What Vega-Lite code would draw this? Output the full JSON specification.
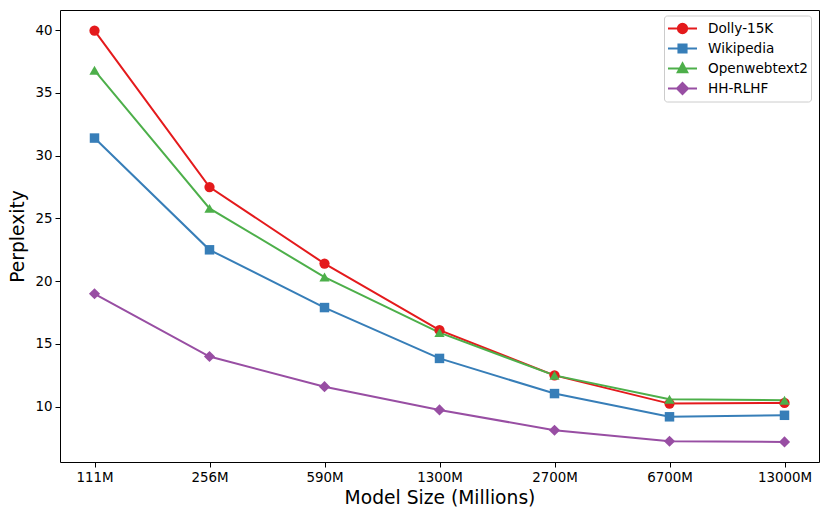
{
  "$schema": "https://vega.github.io/schema/vega-lite/v6.json",
  "width": 759,
  "height": 452,
  "autosize": {"type": "none"},
  "padding": {"left": 60, "top": 10, "right": 11, "bottom": 57},
  "background": "white",
  "config": {
    "font": "DejaVu Sans",
    "view": {"stroke": "#000000", "strokeWidth": 1},
    "axis": {
      "labelFont": "DejaVu Sans",
      "titleFont": "DejaVu Sans",
      "labelColor": "#000000",
      "titleColor": "#000000",
      "labelFontSize": 13.4,
      "titleFontSize": 18.7,
      "titleFontWeight": "normal",
      "tickColor": "#000000",
      "tickSize": 5,
      "domain": false,
      "grid": false,
      "labelPadding": 3
    },
    "legend": {
      "labelFont": "DejaVu Sans",
      "labelFontSize": 13.6,
      "labelColor": "#000000"
    }
  },
  "data": {
    "values": [
      {"size": "111M", "dataset": "Dolly-15K", "ppl": 39.95},
      {"size": "256M", "dataset": "Dolly-15K", "ppl": 27.5},
      {"size": "590M", "dataset": "Dolly-15K", "ppl": 21.4},
      {"size": "1300M", "dataset": "Dolly-15K", "ppl": 16.1},
      {"size": "2700M", "dataset": "Dolly-15K", "ppl": 12.5},
      {"size": "6700M", "dataset": "Dolly-15K", "ppl": 10.25},
      {"size": "13000M", "dataset": "Dolly-15K", "ppl": 10.3},
      {"size": "111M", "dataset": "Wikipedia", "ppl": 31.4},
      {"size": "256M", "dataset": "Wikipedia", "ppl": 22.5},
      {"size": "590M", "dataset": "Wikipedia", "ppl": 17.9},
      {"size": "1300M", "dataset": "Wikipedia", "ppl": 13.85},
      {"size": "2700M", "dataset": "Wikipedia", "ppl": 11.05},
      {"size": "6700M", "dataset": "Wikipedia", "ppl": 9.2},
      {"size": "13000M", "dataset": "Wikipedia", "ppl": 9.32},
      {"size": "111M", "dataset": "Openwebtext2", "ppl": 36.8},
      {"size": "256M", "dataset": "Openwebtext2", "ppl": 25.8},
      {"size": "590M", "dataset": "Openwebtext2", "ppl": 20.33},
      {"size": "1300M", "dataset": "Openwebtext2", "ppl": 15.9},
      {"size": "2700M", "dataset": "Openwebtext2", "ppl": 12.5},
      {"size": "6700M", "dataset": "Openwebtext2", "ppl": 10.6},
      {"size": "13000M", "dataset": "Openwebtext2", "ppl": 10.52},
      {"size": "111M", "dataset": "HH-RLHF", "ppl": 19.0},
      {"size": "256M", "dataset": "HH-RLHF", "ppl": 14.0},
      {"size": "590M", "dataset": "HH-RLHF", "ppl": 11.6},
      {"size": "1300M", "dataset": "HH-RLHF", "ppl": 9.75},
      {"size": "2700M", "dataset": "HH-RLHF", "ppl": 8.13},
      {"size": "6700M", "dataset": "HH-RLHF", "ppl": 7.25},
      {"size": "13000M", "dataset": "HH-RLHF", "ppl": 7.2}
    ]
  },
  "encoding": {
    "x": {
      "field": "size",
      "type": "ordinal",
      "sort": ["111M", "256M", "590M", "1300M", "2700M", "6700M", "13000M"],
      "scale": {"type": "point", "padding": 0.3},
      "axis": {"title": "Model Size (Millions)", "labelAngle": 0, "titlePadding": 5}
    },
    "y": {
      "field": "ppl",
      "type": "quantitative",
      "scale": {"domain": [5.6, 41.6], "nice": false, "zero": false},
      "axis": {"title": "Perplexity", "values": [10, 15, 20, 25, 30, 35, 40], "titlePadding": 7}
    },
    "color": {
      "field": "dataset",
      "type": "nominal",
      "scale": {
        "domain": ["Dolly-15K", "Wikipedia", "Openwebtext2", "HH-RLHF"],
        "range": ["#e41a1c", "#377eb8", "#4daf4a", "#984ea3"]
      },
      "legend": {
        "title": null,
        "orient": "none",
        "legendX": 604,
        "legendY": 5.5,
        "padding": 3,
        "strokeColor": "#cccccc",
        "fillColor": "white",
        "cornerRadius": 3,
        "symbolSize": 841,
        "clipHeight": 20,
        "labelOffset": 10,
        "rowPadding": 0,
        "encode": {
          "symbols": {
            "update": {
              "shape": {"signal": "datum.value === 'Dolly-15K' ? 'M-1,0H1M-0.32,0A0.32,0.32,0,1,1,0.32,0A0.32,0.32,0,1,1,-0.32,0Z' : datum.value === 'Wikipedia' ? 'M-1,0H1M-0.28,-0.28H0.28V0.28H-0.28Z' : datum.value === 'Openwebtext2' ? 'M-1,0H1M0,-0.36L0.33,0.25H-0.33Z' : 'M-1,0H1M0,-0.38L0.38,0L0,0.38L-0.38,0Z'"},
              "stroke": {"scale": "color", "field": "value"},
              "fill": {"scale": "color", "field": "value"},
              "strokeWidth": {"value": 2},
              "opacity": {"value": 1}
            }
          }
        }
      }
    }
  },
  "layer": [
    {"mark": {"type": "line", "strokeWidth": 2}},
    {
      "transform": [{"filter": "datum.dataset === 'Dolly-15K'"}],
      "mark": {"type": "point", "shape": "circle", "filled": true, "size": 105, "opacity": 1}
    },
    {
      "transform": [{"filter": "datum.dataset === 'Wikipedia'"}],
      "mark": {"type": "point", "shape": "square", "filled": true, "size": 90, "opacity": 1}
    },
    {
      "transform": [{"filter": "datum.dataset === 'Openwebtext2'"}],
      "mark": {"type": "point", "shape": "triangle-up", "filled": true, "size": 105, "opacity": 1}
    },
    {
      "transform": [{"filter": "datum.dataset === 'HH-RLHF'"}],
      "mark": {"type": "point", "shape": "diamond", "filled": true, "size": 125, "opacity": 1}
    }
  ]
}
